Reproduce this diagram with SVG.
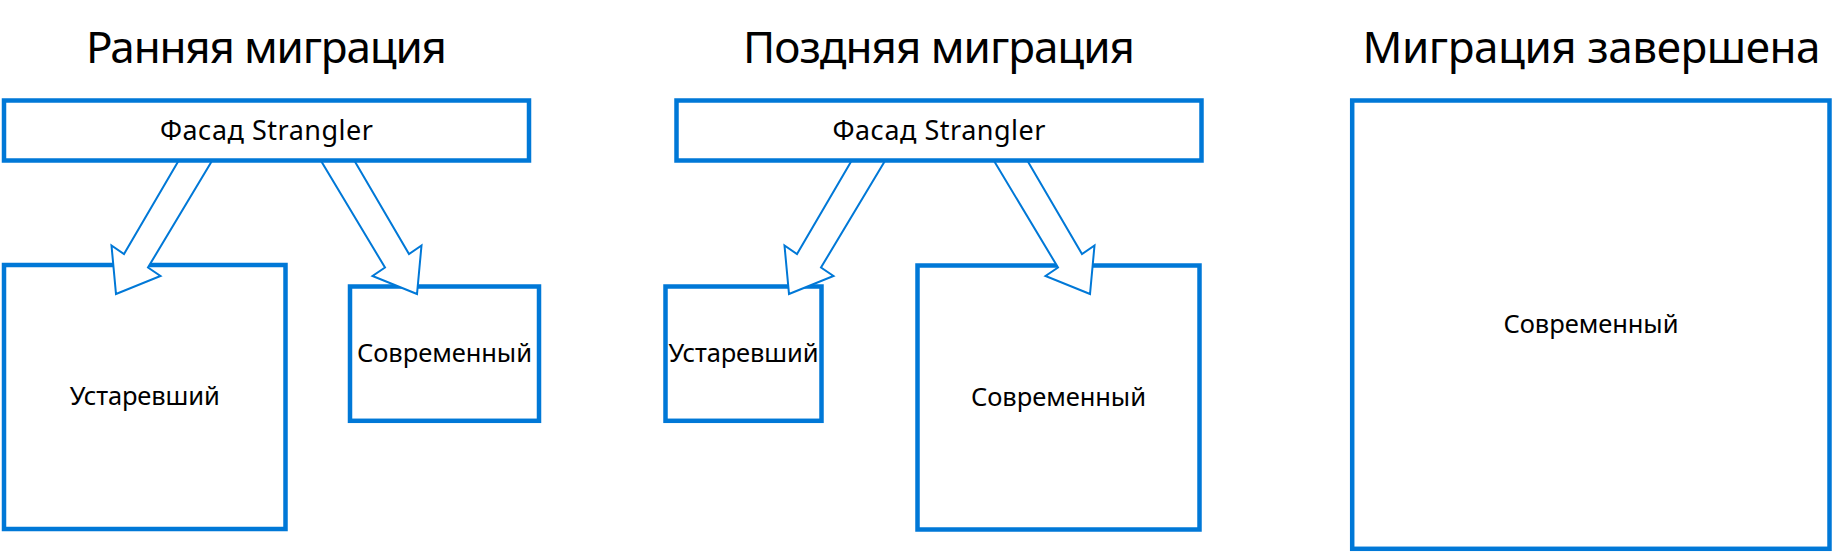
<svg xmlns="http://www.w3.org/2000/svg" width="1833" height="552" viewBox="0 0 1833 552">
  <style>
    .box { fill: #ffffff; stroke: #0078d7; stroke-width: 4.5; }
    .arrow { fill: #ffffff; stroke: #0078d7; stroke-width: 2; stroke-linejoin: miter; }
    .title { font-family: "Noto Sans", "Open Sans", "DejaVu Sans", sans-serif; font-size: 44px; fill: #000000; text-anchor: middle; }
    .label { font-family: "Noto Sans", "Open Sans", "DejaVu Sans", sans-serif; font-size: 25.5px; fill: #000000; text-anchor: middle; }
    .facade-label { font-size: 27px; }
  </style>
  <rect width="1833" height="552" fill="#ffffff"/>

  <g id="titles">
    <text class="title" x="266.5" y="63.3" textLength="361">Ранняя миграция</text>
    <text class="title" x="939" y="63.3" textLength="392">Поздняя миграция</text>
    <text class="title" x="1591.5" y="63" textLength="458">Миграция завершена</text>
  </g>

  <g id="legacy-early">
    <rect class="box" x="4" y="265" width="281.5" height="264"/>
    <text class="label" x="144.75" y="405" textLength="150">Устаревший</text>
  </g>
  <g id="modern-early">
    <rect class="box" x="350" y="286.5" width="189" height="134.3"/>
    <text class="label" x="444.5" y="362" textLength="175">Современный</text>
  </g>
  <g id="legacy-late">
    <rect class="box" x="665.5" y="286.5" width="156" height="134.3"/>
    <text class="label" x="743.5" y="362" textLength="150">Устаревший</text>
  </g>
  <g id="modern-late">
    <rect class="box" x="917.5" y="265.5" width="282" height="264"/>
    <text class="label" x="1058.5" y="405.5" textLength="175">Современный</text>
  </g>
  <g id="modern-done">
    <rect class="box" x="1352.2" y="100.5" width="477.3" height="448.3"/>
    <text class="label" x="1591" y="333" textLength="175">Современный</text>
  </g>

  <g id="connectors">
    <polygon class="arrow" points="179,160 124,254 111.5,245.5 116,294 160.5,276 148,267.5 212.5,160"/>
    <polygon class="arrow" points="354,160 409,254 421.5,245.5 417,294 372.5,276 385,267.5 320.5,160"/>
    <g transform="translate(673,0)">
      <polygon class="arrow" points="179,160 124,254 111.5,245.5 116,294 160.5,276 148,267.5 212.5,160"/>
      <polygon class="arrow" points="354,160 409,254 421.5,245.5 417,294 372.5,276 385,267.5 320.5,160"/>
    </g>
  </g>

  <g id="facade-early">
    <rect class="box" x="4" y="100.5" width="525" height="60"/>
    <text class="label facade-label" x="266.5" y="139.5" textLength="213">Фасад Strangler</text>
  </g>
  <g id="facade-late">
    <rect class="box" x="676.5" y="100.5" width="525" height="60"/>
    <text class="label facade-label" x="939" y="139.5" textLength="213">Фасад Strangler</text>
  </g>
</svg>
